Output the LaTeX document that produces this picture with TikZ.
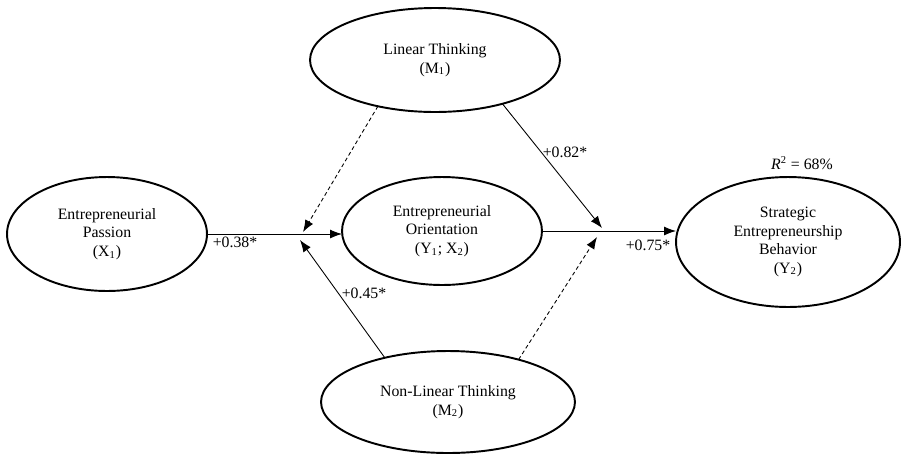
\documentclass[tikz,border=0pt]{standalone}
\usepackage{fontspec}
\setmainfont{Liberation Serif}
\usetikzlibrary{arrows.meta,shapes.geometric}
\tikzset{construct/.style={ellipse,draw,line width=1.1pt,inner sep=0pt,outer sep=0pt,align=center,font=\fontsize{9}{10.5}\selectfont},
  path/.style={line width=0.5pt,-{Latex[length=2.4mm,width=1.8mm]}},
  moderation/.style={path,dash pattern=on 2.2pt off 1.6pt},
  coef/.style={font=\fontsize{9}{10.5}\selectfont,inner sep=0pt}}

\begin{document}
\begin{tikzpicture}[x=0.02cm,y=-0.02cm]
            \useasboundingbox (0,0) rectangle (902,454);
            \node[construct,minimum width=4cm,minimum height=2.28cm] (EP) at (107,234) {Entrepreneurial\\Passion\\(X\textsubscript{1})};
            \node[construct,minimum width=4cm,minimum height=2.16cm] (EO) at (442,231) {Entrepreneurial\\Orientation\\(Y\textsubscript{1}; X\textsubscript{2})};
            \node[construct,minimum width=5cm,minimum height=2.08cm] (LT) at (435,60) {Linear Thinking\\(M\textsubscript{1})};
            \node[construct,minimum width=5.08cm,minimum height=2.04cm] (NLT) at (448,402) {Non-Linear Thinking\\(M\textsubscript{2})};
            \node[construct,minimum width=4.48cm,minimum height=2.6cm] (SEB) at (788,242) {Strategic\\Entrepreneurship\\Behavior\\(Y\textsubscript{2})};

            \coordinate (J1) at (303,232);
            \coordinate (J2) at (300,240);
            \coordinate (J3) at (602,228);
            \coordinate (J4) at (597,237);

            \draw[path] (EP.east) -- (EP.east -| EO.west);
            \draw[path] (EO.east) -- (EO.east -| SEB.west);
            \draw[moderation] (LT.-141) -- (J1);
            \draw[path] (NLT.145) -- (J2);
            \draw[path] (LT.-33) -- (J3);
            \draw[moderation] (NLT.31) -- (J4);

            \node[coef] (c1) at (235,242) {+0.38*};
            \node[coef] (c2) at (364,293) {+0.45*};
            \node[coef] (c3) at (565,152) {+0.82*};
            \node[coef] (c4) at (648,245) {+0.75*};
            \node[coef] (r2) at (802,163) {\textit{R}\textsuperscript{2} = 68\%};
        \end{tikzpicture}
\end{document}
